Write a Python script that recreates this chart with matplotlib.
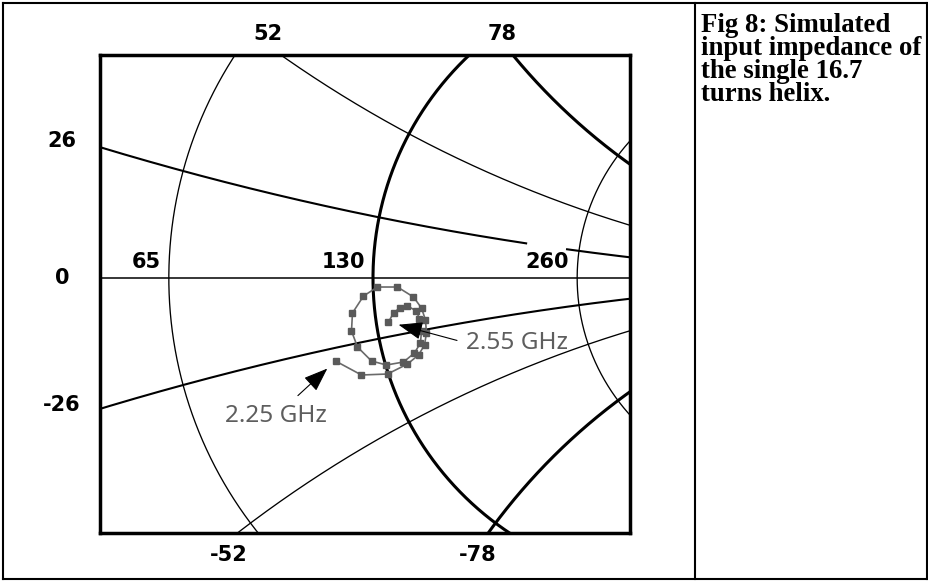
import numpy as np
import matplotlib
matplotlib.use("Agg")
import matplotlib.pyplot as plt
from matplotlib.lines import Line2D

W, H = 929, 582
Z0 = 130.0

# Smith chart grid: constant-resistance circles (ohms) and constant-reactance arcs (normalised)
r_circles_ohm = [65, 130, 260]
r_linewidths = [0.95, 2.2, 0.95]
x_arcs = [0.2, 0.5, 1.0]
x_linewidths = [1.5, 0.95, 2.2]

# reflection coefficient of the helix input, 2.25 GHz -> 2.55 GHz
gamma_re = [-0.0612, -0.0188, 0.0237, 0.0563, 0.0743, 0.0841, 0.0873, 0.0857,
            0.0792, 0.0661, 0.0400, 0.0073, -0.0155, -0.0335, -0.0351, -0.0253,
            -0.0024, 0.0220, 0.0498, 0.0677, 0.0775, 0.0792, 0.0759, 0.0710,
            0.0563, 0.0433, 0.0335, 0.0253]
gamma_im = [-0.1355, -0.1583, -0.1567, -0.1404, -0.1257, -0.1094, -0.0898, -0.0686,
            -0.0490, -0.0310, -0.0147, -0.0147, -0.0294, -0.0571, -0.0865, -0.1126,
            -0.1355, -0.1420, -0.1371, -0.1224, -0.1061, -0.0865, -0.0669, -0.0539,
            -0.0457, -0.0490, -0.0571, -0.0718]

freq_labels = ["2.25 GHz", "2.55 GHz"]
resistance_labels = ["65", "130", "260"]
top_labels = ["52", "78"]
bottom_labels = ["-52", "-78"]
left_labels = ["26", "0", "-26"]
caption_lines = ["Fig 8: Simulated", "input impedance of", "the single 16.7", "turns helix."]

# view window of the chart in reflection-coefficient units
view_re = (-0.4457, 0.4196)
view_im = (-0.4162, 0.3640)


def fx(px):
    return px / W


def fy(py):
    return 1 - py / H


fig = plt.figure(figsize=(W / 100, H / 100), dpi=100)
fig.patch.set_facecolor("white")

ax = fig.add_axes([fx(100), fy(533), fx(630) - fx(100), fy(55) - fy(533)])
ax.set_xlim(*view_re)
ax.set_ylim(*view_im)
ax.set_xticks([])
ax.set_yticks([])
for s in ax.spines.values():
    s.set_linewidth(2.5)
    s.set_color("black")
    s.set_zorder(10)

t = np.linspace(0, 2 * np.pi, 20000)

# real axis
ax.plot(view_re, [0, 0], color="black", lw=1.1, zorder=2)

# constant-resistance circles
for r_ohm, lw in zip(r_circles_ohm, r_linewidths):
    r = r_ohm / Z0
    c, rad = r / (1 + r), 1 / (1 + r)
    ax.plot(c + rad * np.cos(t), rad * np.sin(t), color="black", lw=lw, zorder=2)

# constant-reactance arcs (upper and lower)
for xv, lw in zip(x_arcs, x_linewidths):
    for sign in (1, -1):
        rad = 1 / xv
        gx = 1 + rad * np.cos(t)
        gy = sign * rad + rad * np.sin(t)
        outside = gx ** 2 + gy ** 2 > 1.0
        gx = np.where(outside, np.nan, gx)
        if xv == 0.2 and sign == 1:
            # the upper 0.2 arc is broken just left of the 2.0 circle
            gx = np.where((gx > 0.2506) & (gx < 0.3159), np.nan, gx)
        ax.plot(gx, gy, color="black", lw=lw, zorder=2)

# impedance locus
ax.plot(gamma_re, gamma_im, color="#6a6a6a", lw=1.2, zorder=4)
ax.plot(gamma_re, gamma_im, ls="none", marker="s", ms=5.0,
        mfc="#5a5a5a", mec="#5a5a5a", zorder=5)

arrow_kw = dict(arrowstyle="-|>,head_length=0.75,head_width=0.28",
                color="black", lw=0.8, mutation_scale=20)

ax.annotate(freq_labels[1], xy=(gamma_re[-1], gamma_im[-1]),
            xytext=(78, -21), textcoords="offset pixels",
            ha="left", va="center", fontsize=17.5, color="#5e5e5e",
            family="Noto Sans",
            arrowprops=dict(relpos=(0, 0.5), shrinkA=5, shrinkB=7.5, **arrow_kw),
            zorder=6)
ax.annotate(freq_labels[0], xy=(gamma_re[0], gamma_im[0]),
            xytext=(-60, -55), textcoords="offset pixels",
            ha="center", va="center", fontsize=17.5, color="#5e5e5e",
            family="Noto Sans",
            arrowprops=dict(relpos=(0.63, 1.0), shrinkA=6, shrinkB=8, **arrow_kw),
            zorder=6)

# scale labels
lab_kw = dict(fontsize=15, fontweight="bold", family="DejaVu Sans",
              color="black", ha="center", va="center")
for txt, px in zip(top_labels, [268, 502]):
    fig.text(fx(px), fy(34), txt, **lab_kw)
for txt, px in zip(bottom_labels, [229, 478]):
    fig.text(fx(px), fy(555), txt, **lab_kw)
for txt, py in zip(left_labels, [141, 278, 405]):
    fig.text(fx(62), fy(py), txt, **lab_kw)
for txt, r_ohm in zip(resistance_labels, r_circles_ohm):
    r = r_ohm / Z0
    ax.annotate(txt, xy=((r - 1) / (r + 1), 0), xytext=(-8, 6),
                textcoords="offset pixels", ha="right", va="bottom",
                fontsize=15, fontweight="bold", family="DejaVu Sans", zorder=7)

# caption, one block so the lines share a tight leading
fig.text(fx(701), fy(13), "\n".join(caption_lines), fontsize=19.3, fontweight="bold",
         family="Liberation Serif", ha="left", va="top", color="black",
         linespacing=0.90)

# page frame
frame_kw = dict(color="black", lw=1.5, transform=fig.transFigure)
fig.add_artist(Line2D([fx(3), fx(927)], [fy(3), fy(3)], **frame_kw))
fig.add_artist(Line2D([fx(3), fx(927)], [fy(579), fy(579)], **frame_kw))
fig.add_artist(Line2D([fx(3), fx(3)], [fy(3), fy(579)], **frame_kw))
fig.add_artist(Line2D([fx(927), fx(927)], [fy(3), fy(579)], **frame_kw))
fig.add_artist(Line2D([fx(695), fx(695)], [fy(3), fy(579)], **frame_kw))

fig.savefig("out.png", dpi=100, facecolor="white")
